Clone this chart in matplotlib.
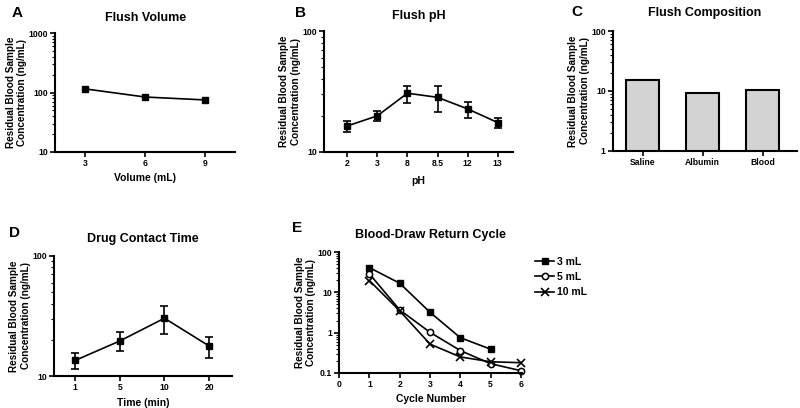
import matplotlib
matplotlib.use("Agg")
import matplotlib.pyplot as plt
from matplotlib.ticker import LogLocator, NullFormatter

plt.rcParams['font.family'] = ['Liberation Sans', 'DejaVu Sans']
plt.rcParams['font.weight'] = 'bold'

# A: flush volume
vol_x = [3, 6, 9]
vol_y = [115, 84, 75]

# B: flush pH
ph_labels = ['2', '3', '8', '8.5', '12', '13']
ph_y = [16.4, 19.9, 30.6, 28.3, 22.7, 17.5]
ph_lo = [14.7, 17.9, 25.4, 21.4, 19.1, 15.9]
ph_hi = [18.1, 21.9, 35.3, 35.3, 26.0, 19.2]

# C: flush composition
comp_labels = ['Saline', 'Albumin', 'Blood']
comp_y = [15.1, 9.4, 10.4]

# D: drug contact time
time_labels = ['1', '5', '10', '20']
time_y = [13.5, 19.6, 30.3, 17.8]
time_lo = [11.4, 16.1, 22.4, 14.1]
time_hi = [15.6, 23.1, 38.1, 21.3]

# E: blood-draw return cycle
cyc_3 = [1, 2, 3, 4, 5]
val_3 = [40.9, 16.8, 3.2, 0.75, 0.39]
cyc_5 = [1, 2, 3, 4, 5, 6]
val_5 = [28.6, 3.66, 1.02, 0.36, 0.17, 0.114]
cyc_10 = [1, 2, 3, 4, 5, 6]
val_10 = [19.5, 3.46, 0.52, 0.25, 0.19, 0.18]

ylab = "Residual Blood Sample\nConcentration (ng/mL)"
tfs = 6.2


def style(ax, ylim, yticks, yticklabels):
    for s in ['top', 'right']:
        ax.spines[s].set_visible(False)
    for s in ['left', 'bottom']:
        ax.spines[s].set_linewidth(1.5)
    ax.set_yscale('log')
    ax.set_ylim(*ylim)
    ax.set_yticks(yticks)
    ax.set_yticklabels(yticklabels)
    ax.yaxis.set_minor_locator(LogLocator(base=10, subs=range(2, 10)))
    ax.yaxis.set_minor_formatter(NullFormatter())
    ax.tick_params(axis='both', which='major', labelsize=tfs, width=1.2, length=3.5, pad=1.5)
    ax.tick_params(axis='y', which='minor', width=0.8, length=2)
    ax.set_ylabel(ylab, fontsize=7.2, fontweight='bold', labelpad=1)


def err(y, lo, hi):
    return [[a - b for a, b in zip(y, lo)], [b - a for a, b in zip(y, hi)]]


fig = plt.figure(figsize=(8, 4.08), dpi=100)

# A
axA = fig.add_axes([0.069, 0.6275, 0.225, 0.2915])
axA.plot(vol_x, vol_y, color='black', marker='s', markersize=4.5, lw=1.2)
axA.set_xlim(1.5, 10.5)
axA.set_xticks(vol_x)
style(axA, (10, 1000), [10, 100, 1000], ['10', '100', '1000'])
axA.set_xlabel('Volume (mL)', fontsize=7.5, fontweight='bold', labelpad=4)
axA.set_title('Flush Volume', fontsize=9, fontweight='bold', pad=9)

# B
axB = fig.add_axes([0.405, 0.6275, 0.236, 0.2965])
xb = list(range(len(ph_labels)))
axB.errorbar(xb, ph_y, yerr=err(ph_y, ph_lo, ph_hi), color='black', marker='s',
             markersize=4.5, lw=1.2, capsize=3, elinewidth=1.2, capthick=1.2)
axB.set_xlim(-0.77, 5.5)
axB.set_xticks(xb)
axB.set_xticklabels(ph_labels)
style(axB, (10, 100), [10, 100], ['10', '100'])
axB.set_xlabel('pH', fontsize=7.5, fontweight='bold', labelpad=6)
axB.set_title('Flush pH', fontsize=9, fontweight='bold', pad=9)

# C
axC = fig.add_axes([0.766, 0.630, 0.23, 0.294])
xc = list(range(len(comp_labels)))
axC.bar(xc, comp_y, width=0.55, color='#d3d3d3', edgecolor='black', linewidth=1.5)
axC.set_xlim(-0.5, 2.57)
axC.set_xticks(xc)
axC.set_xticklabels(comp_labels)
style(axC, (1, 100), [1, 10, 100], ['1', '10', '100'])
axC.set_title('Flush Composition', fontsize=9, fontweight='bold', pad=11)

# D
axD = fig.add_axes([0.0675, 0.078, 0.2225, 0.295])
xd = list(range(len(time_labels)))
axD.errorbar(xd, time_y, yerr=err(time_y, time_lo, time_hi), color='black', marker='s',
             markersize=4.5, lw=1.2, capsize=3, elinewidth=1.2, capthick=1.2)
axD.set_xlim(-0.47, 3.51)
axD.set_xticks(xd)
axD.set_xticklabels(time_labels)
style(axD, (10, 100), [10, 100], ['10', '100'])
axD.set_xlabel('Time (min)', fontsize=7.5, fontweight='bold', labelpad=4)
axD.set_title('Drug Contact Time', fontsize=9, fontweight='bold', pad=10)

# E
axE = fig.add_axes([0.424, 0.0858, 0.229, 0.2965])
axE.plot(cyc_3, val_3, color='black', marker='s', markersize=4.5, lw=1.2, label='3 mL', clip_on=False)
axE.plot(cyc_5, val_5, color='black', marker='o', markersize=4.5, markerfacecolor='white',
         markeredgewidth=1.1, lw=1.2, label='5 mL', clip_on=False)
axE.plot(cyc_10, val_10, color='black', marker='x', markersize=5.5, markeredgewidth=1.2,
         lw=1.2, label='10 mL', clip_on=False)
axE.set_xlim(0, 6.05)
axE.set_xticks(range(0, 7))
style(axE, (0.1, 100), [0.1, 1, 10, 100], ['0.1', '1', '10', '100'])
axE.set_xlabel('Cycle Number', fontsize=7.5, fontweight='bold', labelpad=4)
axE.set_title('Blood-Draw Return Cycle', fontsize=9, fontweight='bold', pad=10)
axE.legend(loc='upper left', bbox_to_anchor=(1.07, 0.96), frameon=False,
           handlelength=1.8, handletextpad=0.3, borderpad=0, labelspacing=0.5,
           borderaxespad=0, prop={'weight': 'bold', 'size': 7.5})

# panel letters
for lab, x, y in [('A', 17, 13), ('B', 300, 13), ('C', 577, 12), ('D', 15, 233), ('E', 297, 228)]:
    fig.text(x / 800, 1 - y / 408, lab, fontsize=11, fontweight='bold', ha='center', va='center')

fig.savefig('out.png', dpi=100)
